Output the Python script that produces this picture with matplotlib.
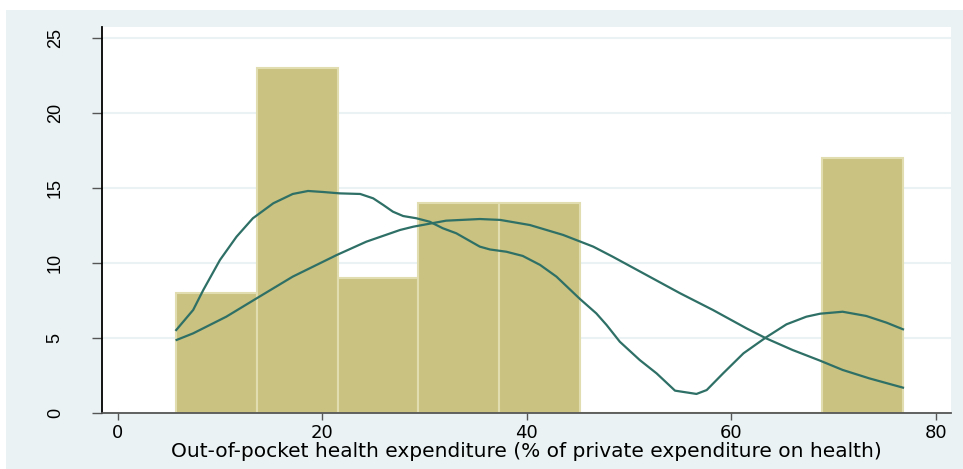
import matplotlib
matplotlib.use("Agg")
import matplotlib.pyplot as plt
from matplotlib.patches import Rectangle

# histogram bins
bin_edges = [5.7, 13.6, 21.5, 29.4, 37.3, 45.2, 53.1, 61.0, 68.9, 76.8]
counts = [8, 23, 9, 14, 14, 0, 0, 0, 17]

# kernel density curve, scaled to frequency
kde_x = [5.7, 7.36, 8.35, 9.98, 11.6, 13.2, 15.2, 17.1, 18.6, 20.1, 21.7, 23.7,
         24.97, 25.95, 26.9, 27.9, 29.2, 30.5, 31.8, 33.1, 35.4, 36.4, 38.0, 39.6,
         41.3, 42.9, 45.2, 46.8, 47.8, 49.1, 51.05, 52.7, 54.5, 56.6, 57.6, 59.2,
         61.2, 63.4, 65.4, 67.35, 68.7, 70.9, 73.2, 75.2, 76.8]
kde_y = [5.53, 6.87, 8.2, 10.2, 11.75, 12.98, 13.98, 14.6, 14.8, 14.73, 14.64, 14.6,
         14.31, 13.87, 13.42, 13.13, 12.98, 12.75, 12.31, 11.98, 11.09, 10.9, 10.75, 10.47,
         9.87, 9.09, 7.6, 6.64, 5.87, 4.75, 3.53, 2.64, 1.49, 1.27, 1.53, 2.64,
         3.98, 5.04, 5.91, 6.42, 6.62, 6.75, 6.47, 6.02, 5.58]

# normal curve, scaled to frequency
norm_x = [5.74, 7.36, 10.6, 13.56, 17.1, 21.4, 24.3, 27.6, 28.9, 32.1, 35.4, 37.4,
          40.3, 43.55, 46.5, 48.4, 51.7, 55.0, 58.2, 61.5, 63.4, 66.0, 68.65, 70.9,
          73.5, 76.8]
norm_y = [4.87, 5.31, 6.42, 7.64, 9.09, 10.53, 11.42, 12.2, 12.42, 12.82, 12.93, 12.87,
          12.53, 11.87, 11.09, 10.42, 9.2, 7.98, 6.87, 5.64, 4.98, 4.2, 3.5, 2.87,
          2.31, 1.69]

x_ticks = [0, 20, 40, 60, 80]
y_ticks = [0, 5, 10, 15, 20, 25]
x_title = "Out-of-pocket health expenditure (% of private expenditure on health)"

bg = "#eaf2f3"
bar_fill = "#c9c280"
bar_edge = "#e2ddb0"
line_col = "#2e6f66"

fig = plt.figure(figsize=(9.63, 4.69), dpi=100, facecolor="white")
fig.patches.append(Rectangle((6 / 963, 0), 1, 459 / 469, transform=fig.transFigure,
                             facecolor=bg, edgecolor="none", zorder=-10))
ax = fig.add_axes([102 / 963, 56 / 469, 849 / 963, 386 / 469])
ax.set_facecolor("white")

widths = [bin_edges[i + 1] - bin_edges[i] for i in range(len(counts))]
ax.bar(bin_edges[:-1], counts, width=widths, align="edge", color=bar_fill,
       edgecolor=bar_edge, linewidth=1.5, zorder=2)
ax.plot(kde_x, kde_y, color=line_col, lw=1.6, zorder=3)
ax.plot(norm_x, norm_y, color=line_col, lw=1.6, zorder=3)

ax.set_xlim(-1.56, 81.5)
ax.set_ylim(0, 25.73)
ax.set_yticks(y_ticks)
ax.set_xticks(x_ticks)
ax.grid(axis="y", color=bg, lw=1.5, zorder=0)
ax.set_axisbelow(True)

for s in ["top", "right"]:
    ax.spines[s].set_visible(False)
ax.spines["left"].set_color("black")
ax.spines["left"].set_linewidth(1.3)
ax.spines["bottom"].set_color("#555555")
ax.spines["bottom"].set_linewidth(1.3)

ax.tick_params(axis="y", length=7.5, width=1, color="#555555", pad=20)
ax.tick_params(axis="x", length=5, width=1, color="#555555", pad=3)
for lab in ax.get_yticklabels():
    lab.set_rotation(90)
    lab.set_va("center")
    lab.set_family("Liberation Sans")
    lab.set_fontsize(13)
for lab in ax.get_xticklabels():
    lab.set_family("DejaVu Sans")
    lab.set_fontsize(13)

ax.set_xlabel(x_title, family="DejaVu Sans", fontsize=14.5, labelpad=0)

fig.savefig("out.png", dpi=100, facecolor="white")
